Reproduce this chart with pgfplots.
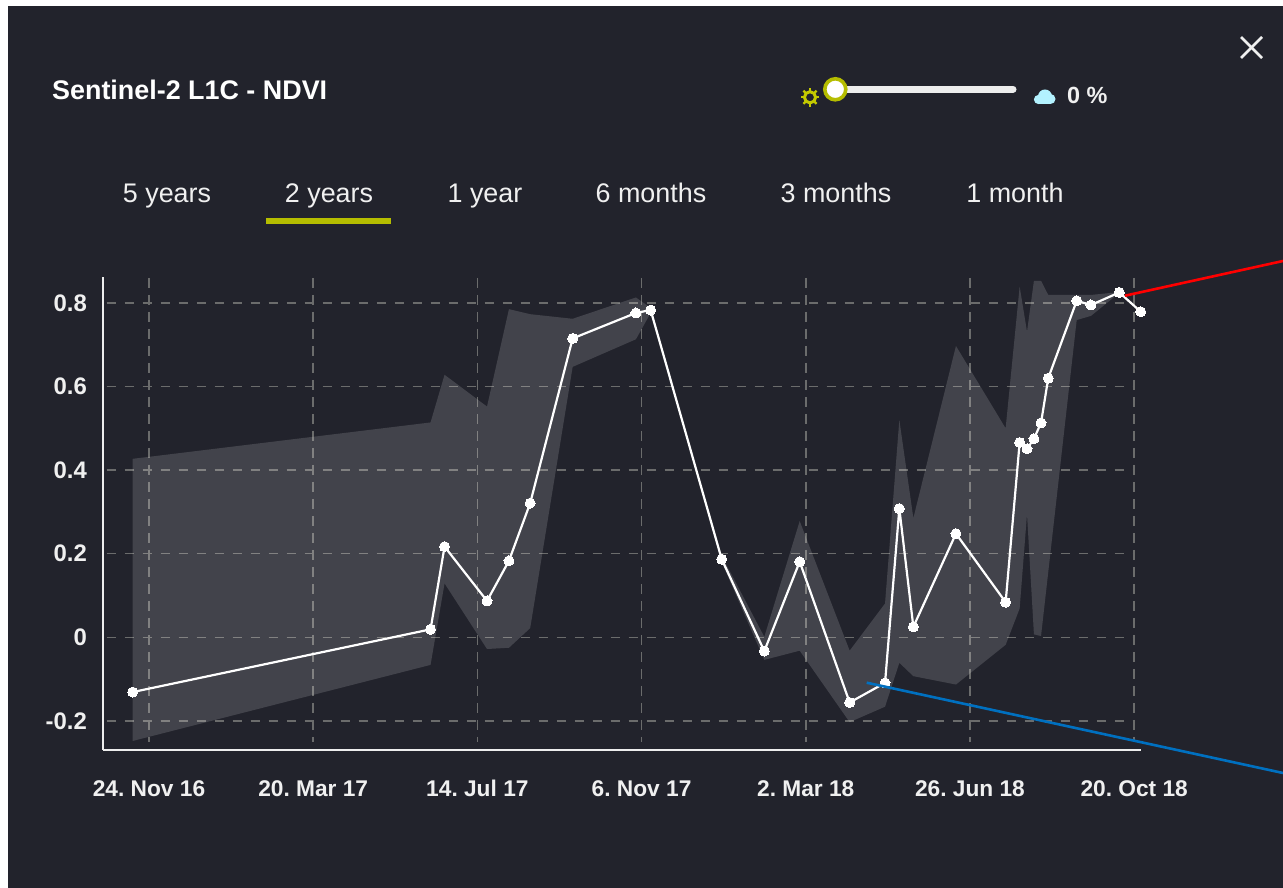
\documentclass[border=0pt]{standalone}
\usepackage{pgfplots}
\usepackage{pgfplotstable}
\usepackage{fontspec}
\setmainfont{Liberation Sans}
\pgfplotsset{compat=1.18}
\frenchspacing
\definecolor{bg}{HTML}{22232C}
\definecolor{gridc}{HTML}{6B6C6C}
\definecolor{olive}{HTML}{B5BD00}
\definecolor{axisc}{HTML}{EDEDED}
\definecolor{txt}{HTML}{F0F0F0}
\definecolor{annblue}{HTML}{0070C0}
\definecolor{cloudc}{HTML}{B3F2FF}
\pgfplotstableread{
d v
-11.5 -0.131
198.9 0.019
208.8 0.217
238.8 0.087
254.3 0.183
269.3 0.321
299.3 0.715
344.0 0.776
354.4 0.783
404.6 0.187
434.7 -0.033
459.7 0.181
495.0 -0.156
520.0 -0.109
530.1 0.308
540.0 0.025
570.1 0.248
605.2 0.084
615.1 0.466
620.3 0.451
625.2 0.475
630.2 0.513
635.3 0.620
655.4 0.805
665.5 0.795
685.5 0.825
700.6 0.779
}\ndvi
\pgfplotstableread{
d v
-11.5 0.427
198.9 0.514
208.8 0.628
238.8 0.552
254.3 0.785
269.3 0.773
299.3 0.762
344.0 0.813
354.4 0.788
404.6 0.195
434.7 0.001
459.7 0.278
495.0 -0.032
520.0 0.081
530.1 0.520
540.0 0.285
570.1 0.697
605.2 0.500
615.1 0.839
620.3 0.731
625.2 0.853
630.2 0.853
635.3 0.819
655.4 0.819
665.5 0.819
685.5 0.826
685.5 0.824
665.5 0.769
655.4 0.759
635.3 0.156
630.2 0.003
625.2 0.007
620.3 0.295
615.1 0.069
605.2 -0.018
570.1 -0.113
540.0 -0.093
530.1 -0.061
520.0 -0.166
495.0 -0.203
459.7 -0.032
434.7 -0.054
404.6 0.180
354.4 0.776
344.0 0.713
299.3 0.647
269.3 0.022
254.3 -0.025
238.8 -0.028
208.8 0.129
198.9 -0.066
-11.5 -0.248
}\band
\begin{document}
\begin{tikzpicture}[x=1bp,y=1bp]
\useasboundingbox (0,0) rectangle (1283,888);
\fill[white] (0,0) rectangle (1283,888);
\fill[bg] (8,0) rectangle (1283,882);
\begin{axis}[
  at={(103bp,138bp)}, anchor=south west,
  width=1037.7bp, height=473bp, scale only axis,
  xmin=-32.5, xmax=700.6, ymin=-0.2696, ymax=0.862,
  axis lines=left, axis line style={-, color=axisc, line width=1.6bp},
  clip=false,
  xtick={0,116,232,348,464,580,696},
  xticklabels={24. Nov 16,20. Mar 17,14. Jul 17,6. Nov 17,2. Mar 18,26. Jun 18,20. Oct 18},
  ytick={-0.2,0,0.2,0.4,0.6,0.8},
  yticklabels={-0.2,0,0.2,0.4,0.6,0.8},
  tick style={draw=none},
  tick label style={font=\fontsize{22.8}{24}\selectfont\bfseries, text=txt},
  yticklabel style={anchor=east, xshift=-10.5bp, font=\fontsize{24}{26}\selectfont\bfseries},
  xticklabel style={anchor=base, yshift=-44.5bp},
]
\pgfplotsinvokeforeach{-0.2,0,0.2,0.4,0.6,0.8}{
  \draw[gridc, line width=1.5bp, dash pattern=on 9bp off 9bp] (axis cs:-30,#1) -- (axis cs:696,#1);
}
\pgfplotsinvokeforeach{0,116,232,348,464,580,696}{
  \draw[gridc, line width=1.5bp, dash pattern=on 10bp off 7bp] (axis cs:#1,0.86) -- (axis cs:#1,-0.25);
}
\addplot[fill=white, fill opacity=0.15, draw=none] table[x=d,y=v] {\band} --cycle;
\addplot[white, line width=2.2bp, mark=*, mark size=5bp, mark options={fill=white, draw=white, line width=0pt}] table[x=d,y=v] {\ndvi};
\end{axis}
% annotation lines
\draw[red, line width=2.6bp] (1125,592.3) -- (1283,627);
\draw[annblue, line width=2.6bp] (866.7,205.3) -- (1283,115);
% header
\node[anchor=base west, inner sep=0pt, text=white, font=\fontsize{27}{30}\selectfont\bfseries] at (52,788) {Sentinel-2 L1C - NDVI};
\foreach \cx/\lab in {167/5 years,329/2 years,485/1 year,651/6 months,836/3 months,1015/1 month}{
  \node[anchor=base, inner sep=0pt, text=txt, font=\fontsize{27}{30}\selectfont] at (\cx,685.5) {\lab};
}
\fill[olive] (266,663.7) rectangle (391.4,669.7);
% slider
\draw[axisc, line width=7bp, line cap=round] (835,798.7) -- (1013,798.7);
\fill[white, draw=olive, line width=3.6bp] (835.3,798.7) circle (10.5);
% sun
\draw[olive!80!yellow, line width=3bp] (810,790.7) circle (5.6);
\foreach \a in {0,45,...,315}{
  \draw[olive!80!yellow, line width=2.4bp] (810,790.7) ++(\a:6.5) -- ++(\a:2.8);
}
% cloud
\fill[cloudc] (1045,791.5) circle (7);
\fill[cloudc] (1038.5,788.5) circle (4.6);
\fill[cloudc] (1050.5,789) circle (5);
\fill[cloudc] (1038.5,783.9) rectangle (1050.5,790);
\node[anchor=base west, inner sep=0pt, text=txt, font=\fontsize{23.5}{26}\selectfont\bfseries] at (1067,784) {0 \%};
% close
\draw[txt, line width=2.6bp] (1241,851) -- (1262,830);
\draw[txt, line width=2.6bp] (1241,830) -- (1262,851);
\end{tikzpicture}
\end{document}
